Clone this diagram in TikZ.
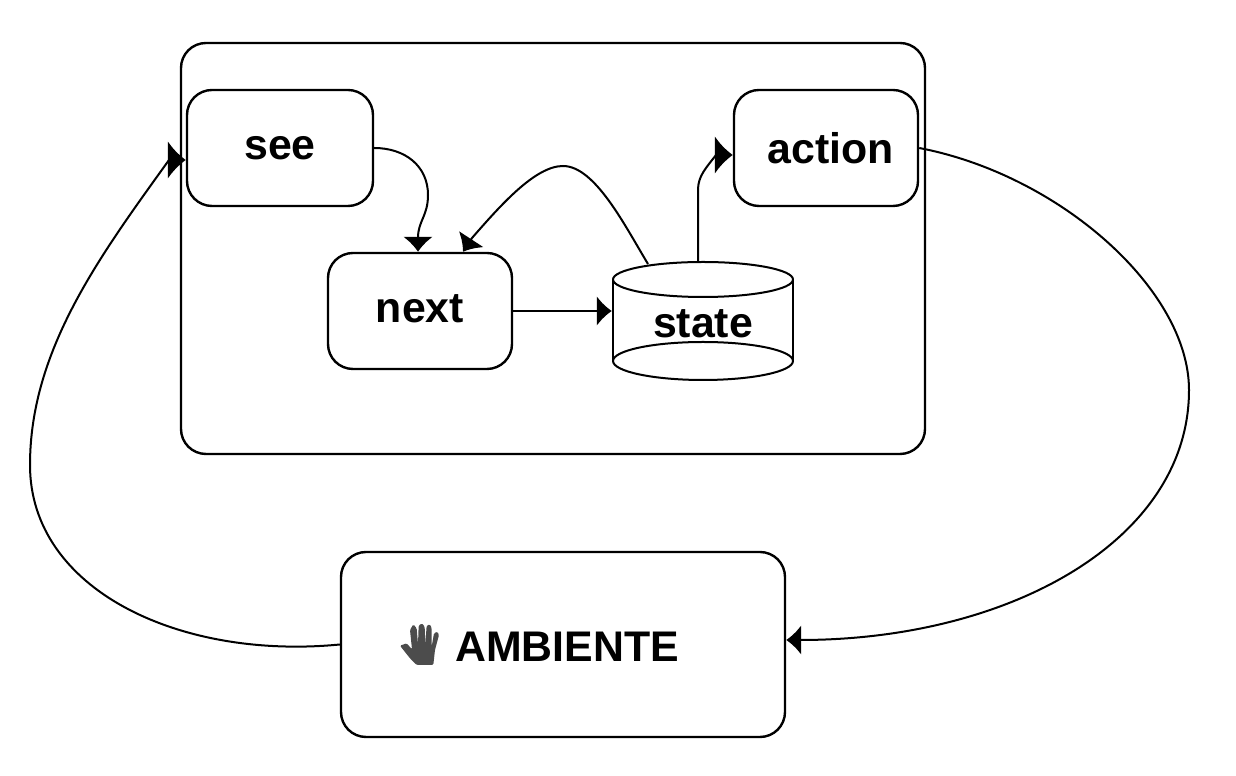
\documentclass[tikz,border=0pt]{standalone}
\usepackage{fontspec}
\setmainfont{Liberation Sans}
\usetikzlibrary{arrows.meta}
\tikzset{
  block/.style={draw,line width=2.4bp,rounded corners=25bp,inner sep=0pt,font=\fontsize{43}{50}\selectfont\bfseries},
  link/.style={line width=2bp,-{Latex[length=15bp,width=30bp]}},
  sidelink/.style={line width=2bp,-{Latex[length=18bp,width=38bp]}},
  wire/.style={line width=2bp},
}
\begin{document}
\begin{tikzpicture}[x=1bp,y=1bp,line join=round]
  \useasboundingbox (0,0) rectangle (1236,776);
  % Node: agent
  \node [block,minimum width=744bp,minimum height=411bp] (agent) at (553,527.5) {};
  % Node: see
  \node [block,minimum width=186bp,minimum height=116bp] (see) at (280,628) {see};
  % Node: next
  \node [block,minimum width=184bp,minimum height=116bp] (next) at (420,465) {\raisebox{5bp}{next}};
  % Node: action
  \node [block,minimum width=184bp,minimum height=116bp] (action) at (826,628) {\hspace*{9bp}action};
  % Node: state
  \node [block,draw=none,minimum width=180bp,minimum height=118bp] (state) at (703,452) {state};
  \draw [wire] (613,496) -- (613,415) (793,496) -- (793,415);
  \draw [wire] (703,496.5) ellipse [x radius=90,y radius=17.5];
  \draw [wire] (703,415) ellipse [x radius=90,y radius=19];
  % Node: ambiente
  \node [block,minimum width=444bp,minimum height=185bp] (ambiente) at (563,131.5) {};
  \node [block,draw=none] (ambientetext) at (567,129) {AMBIENTE};
  % Hand
  \fill [black!70,rounded corners=1.2bp,shift={(390,161)},x=0.3333bp,y=-0.3333bp]
    (30,92) -- (50,85) -- (66,103) -- (60,45) -- (70,28) -- (80,40) -- (84,88) -- (86,32) -- (96,25) -- (104,35) -- (106,88) -- (110,32) -- (120,28) -- (125,40) -- (125,95) -- (132,55) -- (142,50) -- (147,60) -- (135,105) -- (130,150) -- (80,150) -- (60,130) -- cycle;
  % Edge: see -> next
  \draw [link] (see.east) .. controls (405,628) and (428,610) .. (428,581) .. controls (428,560) and (418,555) .. ([xshift=-2bp]next.north);
  % Edge: state -> next
  \draw [link] (648,512) .. controls (625,550) and (595,610) .. (563,610) .. controls (535,610) and (500,570) .. (472,538) -- ([xshift=43bp]next.north);
  % Edge: next -> state
  \draw [link] (next.east) -- (next.east -| state.west);
  % Edge: state -> action
  \draw [sidelink] (698,514) -- (698,586) .. controls (698,600) and (706,608) .. (716,621) -- ([yshift=-7bp]action.west);
  % Edge: action -> ambiente
  \draw [link] (action.east) .. controls (1060,601) and (1189,486) .. (1189,386) .. controls (1189,236) and (1010,136) .. ([yshift=4.5bp]ambiente.east);
  % Edge: ambiente -> see
  \draw [sidelink] (ambiente.west) .. controls (180,116) and (30,186) .. (30,311) .. controls (30,426) and (100,520) .. (169,616) -- ([yshift=-12bp]see.west);
\end{tikzpicture}
\end{document}
